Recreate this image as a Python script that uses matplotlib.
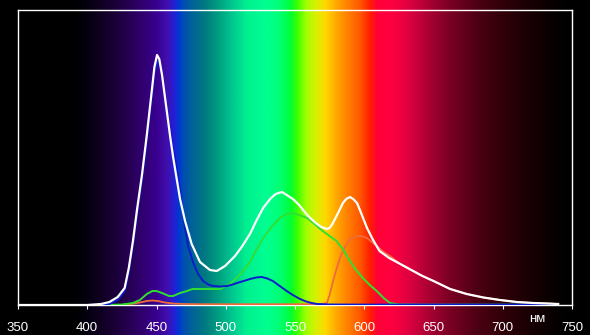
import numpy as np
import matplotlib
matplotlib.use("Agg")
import matplotlib.pyplot as plt
from matplotlib.colors import LinearSegmentedColormap, to_rgb

# ---- data (y in relative units, 0..294) ----
white_nm = [350, 400, 410, 416, 422, 427, 430, 433, 436, 439.5, 443, 446.5, 448.5, 450.4, 452, 454, 456,
            458, 460, 462, 464, 467, 470.6, 475.4, 481.4, 488.6, 493.5, 499.5, 506.7, 512, 517.5, 522,
            527, 532, 536, 540.6, 544, 548.5, 553, 557, 561, 565, 569, 573, 575, 577, 580, 582.5, 584.6,
            587, 589.7, 592, 594.8, 598, 602, 606, 611, 618, 626, 634, 642, 650, 662, 674, 686, 698,
            710, 722, 732, 740]
white_v = [0, 0, 1, 3, 8, 17, 37, 64, 96, 130, 170, 213, 238, 250, 246, 230, 209,
           188, 167, 148, 131, 106, 84, 61, 43, 35, 34, 39, 49, 59, 71, 84,
           97, 106, 111, 113, 110, 106, 100, 93, 87, 82, 78, 76, 77, 81, 89, 96, 102,
           106, 108, 106, 102, 91, 77, 66, 54, 47, 41, 35, 29, 24, 16, 11, 7.5, 5,
           3, 2, 1.5, 1]

blue_nm = [350, 410, 416, 422, 427, 430, 433, 436, 439.5, 443, 446.5, 448.5, 451, 453, 456, 459, 462,
           464.6, 467, 470.6, 473, 476.6, 480, 483.6, 488, 491, 496, 501, 505, 508, 513, 517.5, 522,
           526, 530, 534, 539, 544, 549, 553.6, 558, 562, 566, 575, 600, 740]
blue_v = [0, 0, 1, 5, 14, 33, 60, 91, 125, 164, 207, 232, 244, 238, 212, 184, 157,
          138, 114, 76, 58, 42, 31, 24, 20, 19, 18.5, 19, 20.5, 22, 24, 26, 27.5,
          28, 26.5, 24, 19, 14, 9.5, 6, 3.5, 2, 1, 0.5, 0.4, 0.4]

green_nm = [350, 413, 425, 433, 438, 443, 447, 450, 454, 459, 462, 467, 472, 476, 486, 496, 503, 510,
            517.5, 522, 527, 533, 539, 544, 548.5, 553, 558.7, 564, 570, 575, 580, 585, 589.7, 594,
            599, 604, 609, 614, 618.6, 625, 640, 740]
green_v = [0, 0, 0.5, 2, 5, 11, 14, 14, 12, 9, 9, 12, 14, 16, 16, 16, 21, 30,
           43, 55, 67, 78, 87, 91, 92, 90, 87, 81, 74, 69, 64, 55, 44, 35,
           27, 20, 14, 7, 2, 0.5, 0.3, 0.3]

red_nm = [350, 425, 432, 438, 443, 447, 451, 456, 462, 470, 480, 540, 568, 573, 575, 577.5, 580,
          582.5, 586, 589.7, 594.7, 598, 602, 609, 614, 618.6, 626, 634, 642, 650, 662, 674, 686,
          698, 710, 722, 732, 740]
red_v = [0, 0, 1, 2.5, 4, 4.5, 4, 2.5, 1.5, 1, 0.8, 0.8, 0.8, 2, 10, 24, 36,
         47, 58, 66, 69, 69, 67, 59, 53, 49, 41, 35, 29, 24, 16, 11, 7.5,
         5, 3, 2, 1.5, 1]

tick_values = [350, 400, 450, 500, 550, 600, 650, 700, 750]

# spectrum background colour stops (wavelength, colour)
spec_nm = [350, 390, 400, 410, 420, 430, 440, 450, 458, 463, 466, 470, 475, 485, 495, 505, 515,
           530, 540, 547, 552, 558, 565, 572, 580, 588, 597, 604, 610, 620, 632, 645, 660, 680,
           700, 720, 740, 750]
spec_col = ["#000000", "#000000", "#050010", "#100022", "#1a0038", "#260052", "#300070", "#3a0090",
            "#4010b0", "#2020d8", "#0038d0", "#0050b0", "#006098", "#007a80", "#00a080", "#00c890",
            "#00f090", "#00ff90", "#00ff70", "#00ff30", "#40ff00", "#a0ff00", "#d8f000", "#ffd800",
            "#ffa800", "#ff8000", "#ff5800", "#ff2000", "#ff0038", "#ff0040", "#e00040", "#b00035",
            "#800025", "#500015", "#300008", "#180004", "#050000", "#000000"]

W, H = 590, 335
fig = plt.figure(figsize=(W / 100, H / 100), dpi=100, facecolor="black")

x0, x1 = 18, 572
ybot, ytop = 305, 10
axpos = [x0 / W, (H - ybot) / H, (x1 - x0) / W, (ybot - ytop) / H]

# background spectrum covering full height
bg = fig.add_axes([x0 / W, 0, (x1 - x0) / W, 1])
bg.set_axis_off()
pos = [(n - spec_nm[0]) / (spec_nm[-1] - spec_nm[0]) for n in spec_nm]
cmap = LinearSegmentedColormap.from_list("spec", list(zip(pos, [to_rgb(c) for c in spec_col])), N=1024)
grad = np.linspace(0, 1, 1200)[None, :]
bg.imshow(grad, aspect="auto", cmap=cmap, extent=[350, 750, 0, 1], interpolation="bilinear")
bg.set_xlim(350, 750)
bg.set_ylim(0, 1)

ax = fig.add_axes(axpos)
ax.set_facecolor("none")
ax.plot(red_nm, red_v, color="#f06a3a", lw=1.3, zorder=3)
ax.plot(green_nm, green_v, color="#30e030", lw=1.4, zorder=4)
ax.plot(blue_nm, blue_v, color="#0a1ccc", lw=1.4, zorder=5)
ax.plot(white_nm, white_v, color="white", lw=1.6, zorder=6)

ax.set_xlim(350, 750)
ax.set_ylim(0, ybot - ytop)
for s in ax.spines.values():
    s.set_color("white")
    s.set_linewidth(1.0)
ax.set_xticks(tick_values)
ax.set_xticklabels([str(t) for t in tick_values])
ax.set_yticks([])
ax.tick_params(axis="x", colors="white", length=3, width=0.8, pad=9, labelsize=9.5)
for lbl in ax.get_xticklabels():
    lbl.set_fontfamily("Liberation Sans")
ax.text(725, -13.5, "нм", color="white", fontsize=9.5, ha="center", va="center",
        family="Liberation Sans", clip_on=False)

fig.savefig("out.png", dpi=100, facecolor="black")
